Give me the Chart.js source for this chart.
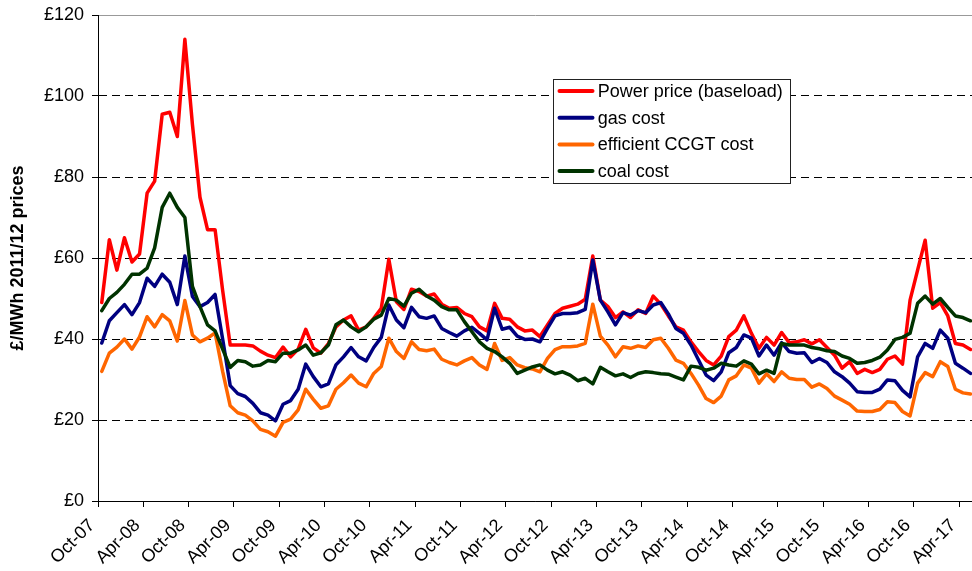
<!DOCTYPE html>
<html>
<head>
<meta charset="utf-8">
<script src="https://cdn.jsdelivr.net/npm/chart.js@4.4.1/dist/chart.umd.min.js"></script>
<style>
html, body { margin: 0; padding: 0; background: #fff; overflow: hidden; }
</style>
</head>
<body>
<canvas id="chart1" width="972" height="571"></canvas>
<script>
// x axis labels, one every 6 months starting Oct-07
var tickLabels = ["Oct-07", "Apr-08", "Oct-08", "Apr-09", "Oct-09", "Apr-10", "Oct-10",
    "Apr-11", "Oct-11", "Apr-12", "Oct-12", "Apr-13", "Oct-13", "Apr-14", "Oct-14",
    "Apr-15", "Oct-15", "Apr-16", "Oct-16", "Apr-17"];

var yTicks = [0, 20, 40, 60, 80, 100, 120];

var seriesNames = ["Power price (baseload)", "gas cost", "efficient CCGT cost", "coal cost"];

// monthly values, Oct-07 onwards (£/MWh)
var powerPrice = [49, 64.5, 57, 65, 59, 61, 76, 79, 95.5, 96, 90, 114,
    93, 75, 67, 67, 52, 38.5, 38.5, 38.5, 38.3, 37, 36, 35.4,
    38, 35.6, 37.5, 42.4, 37.8, 36.5, 38.9, 43, 44.7, 45.7, 42.2, 43,
    45.1, 47.6, 59.7, 49.2, 47.3, 52.3, 51.7, 50.6, 51.1, 48.6, 47.6, 47.8,
    46.3, 45.5, 43, 42, 48.8, 45.1, 44.9, 43, 42, 42.2, 40.6, 43.5,
    46.3, 47.6, 48.1, 48.6, 49.8, 60.5, 49.6, 48, 45.3, 46.7, 45.3, 47.2,
    46.3, 50.6, 48.6, 45.7, 43, 42.2, 39.3, 36.9, 34.7, 33.6, 35.8, 40.6,
    42.2, 45.7, 41.4, 37.7, 40.4, 38.5, 41.6, 39.1, 39.3, 39.8, 38.8, 39.8,
    37.9, 36, 32.8, 34.4, 31.5, 32.5, 31.7, 32.5, 35, 35.8, 33.8, 49.6,
    57, 64.4, 47.6, 49, 45.7, 38.9, 38.5, 37.4];

var gasCost = [39, 44.5, 46.5, 48.5, 46, 49, 55, 53, 56, 54, 48.5, 60.5,
    50.5, 48, 49, 51, 40, 28.5, 26.5, 25.8, 24.1, 21.8, 21.2, 19.8,
    23.9, 24.8, 27.6, 33.8, 30.7, 28.2, 28.9, 33.6, 35.6, 37.9, 35.6, 34.6,
    37.9, 40.4, 48.4, 44.7, 42.8, 47.8, 45.5, 45.1, 45.7, 42.6, 41.6, 40.7,
    42, 42.9, 41.4, 39.8, 47.6, 42.4, 42.9, 40.7, 39.9, 40, 39.3, 42.6,
    45.7, 46.3, 46.3, 46.5, 47.3, 59.5, 49.6, 46.7, 43.5, 46.5, 45.9, 47,
    46.5, 48.4, 49, 46.2, 42.6, 41.4, 38.5, 34.8, 31.1, 29.7, 31.9, 36.6,
    37.9, 41, 40.2, 35.8, 38.5, 36, 39.1, 36.9, 36.5, 36.6, 34.2, 35.2,
    34.2, 31.9, 30.7, 29.1, 27, 26.8, 26.8, 27.6, 29.9, 29.7, 27.3, 25.7,
    35.6, 38.9, 37.7, 42.2, 40.2, 34, 32.8, 31.5];

var ccgtCost = [32, 36.5, 38, 40, 37.5, 40.5, 45.5, 43, 46, 44.5, 39.5, 49.5,
    41, 39.3, 40.2, 41.5, 32, 23.5, 21.8, 21.2, 19.8, 17.7, 17.1, 16,
    19.4, 20.2, 22.5, 27.6, 25.1, 22.9, 23.5, 27.6, 29.2, 31.1, 29.1, 28.2,
    31.5, 33.2, 40.2, 36.9, 35.2, 39.3, 37.4, 37.1, 37.5, 35, 34.2, 33.6,
    34.6, 35.4, 33.6, 32.5, 38.9, 34.7, 35.4, 33.6, 32.9, 32.6, 31.9, 35.2,
    37.4, 38.1, 38.1, 38.3, 38.9, 48.6, 40.7, 38.5, 35.6, 38.1, 37.7, 38.3,
    37.9, 39.8, 40.2, 37.7, 34.8, 34, 31.5, 28.6, 25.3, 24.3, 25.9, 29.9,
    30.9, 33.6, 32.8, 29.1, 31.4, 29.5, 31.9, 30.3, 30, 30, 28.1, 28.9,
    27.8, 25.9, 24.9, 23.9, 22.2, 22.1, 22.1, 22.6, 24.5, 24.3, 22.1, 21,
    29.1, 31.7, 30.7, 34.4, 33.2, 27.6, 26.7, 26.4];

var coalCost = [47, 50, 51.5, 53.5, 56, 56, 57.5, 62.5, 72.5, 76, 72.5, 70,
    53, 48, 43.5, 42, 37.5, 33, 34.7, 34.4, 33.3, 33.6, 34.7, 34.4,
    36.5, 36.5, 37.3, 38.5, 36, 36.6, 38.5, 43.5, 44.7, 43, 41.8, 43,
    44.9, 45.9, 50, 49.6, 48.1, 51.3, 52.3, 50.6, 49.6, 48, 47.2, 47.2,
    44.3, 41.8, 39.3, 37.7, 36.9, 35.6, 34, 31.5, 32.3, 33.1, 33.6, 32.3,
    31.4, 31.9, 31.1, 29.7, 30.3, 28.9, 33, 31.9, 30.9, 31.4, 30.5, 31.5,
    31.9, 31.7, 31.4, 31.3, 30.6, 29.9, 33.3, 33, 32.3, 32.8, 34, 33.6,
    33.3, 34.6, 33.8, 31.4, 32.3, 31.5, 38.9, 38.5, 38.5, 38.5, 37.9, 37.6,
    37.1, 36.9, 35.8, 35.2, 34, 34.2, 34.7, 35.5, 37.3, 39.9, 40.4, 41.4,
    48.8, 50.6, 48.6, 50, 47.8, 45.7, 45.3, 44.5];

// line colours
var colors = ["#FF0000", "#000080", "#FF6600", "#003300"];

// months visible on the axis (the plot is cut off at the right)
var monthsShown = 115.7;

var fontFamily = "'Liberation Sans', Arial, sans-serif";

// monthly values sit in the middle of their month
function toPoints(values) {
    return values.map(function (v, i) {
        return { x: i + 0.5, y: v };
    });
}

function createData(label, values, color, order) {
    return {
        label: label,
        data: toPoints(values),
        borderColor: color,
        backgroundColor: color,
        borderWidth: 3.5,
        pointRadius: 0,
        borderJoinStyle: "round",
        borderCapStyle: "round",
        fill: false,
        tension: 0,
        order: order
    };
}

// legend box inside the plot
var boxLegend = {
    id: "boxLegend",
    afterDraw: function (chart) {
        var ctx = chart.ctx;
        var left = 553.5, top = 79.5, w = 237, h = 104;
        ctx.save();
        ctx.fillStyle = "#fff";
        ctx.fillRect(left, top, w, h);
        ctx.strokeStyle = "#222";
        ctx.lineWidth = 1;
        ctx.strokeRect(left, top, w, h);
        ctx.font = "18px " + fontFamily;
        ctx.textBaseline = "middle";
        chart.data.datasets.forEach(function (ds, k) {
            var y = 91 + k * 26.7;
            ctx.strokeStyle = ds.borderColor;
            ctx.lineWidth = 4;
            ctx.lineCap = "round";
            ctx.beginPath();
            ctx.moveTo(559.5, y);
            ctx.lineTo(592.5, y);
            ctx.stroke();
            ctx.fillStyle = "#000";
            ctx.fillText(ds.label, 597.7, y + 1);
        });
        ctx.restore();
    }
};

var chart = new Chart(document.getElementById("chart1"), {
    type: "line",
    data: {
        datasets: [
            createData(seriesNames[0], powerPrice, colors[0], 4),
            createData(seriesNames[1], gasCost, colors[1], 3),
            createData(seriesNames[2], ccgtCost, colors[2], 2),
            createData(seriesNames[3], coalCost, colors[3], 1)
        ]
    },
    options: {
        responsive: false,
        animation: false,
        layout: { padding: { top: 15, right: 0, bottom: 0, left: 0 } },
        plugins: {
            legend: { display: false },
            tooltip: { enabled: false }
        },
        scales: {
            x: {
                type: "linear",
                min: 0,
                max: monthsShown,
                afterBuildTicks: function (s) {
                    s.ticks = tickLabels.map(function (t, k) { return { value: k * 6 }; });
                },
                afterFit: function (s) {
                    s.height = 70;
                    s.paddingRight = 0;
                    s.paddingLeft = 0;
                },
                ticks: {
                    autoSkip: false,
                    maxRotation: 45,
                    minRotation: 45,
                    padding: 8,
                    labelOffset: -6,
                    color: "#000",
                    font: { family: fontFamily, size: 18 },
                    callback: function (v) { return tickLabels[Math.round(v / 6)]; }
                },
                grid: {
                    drawOnChartArea: false,
                    tickLength: 6,
                    tickColor: "#000",
                    color: "#000"
                },
                border: { color: "#000", width: 1 }
            },
            y: {
                min: 0,
                max: 120,
                afterBuildTicks: function (s) {
                    s.ticks = yTicks.map(function (v) { return { value: v }; });
                },
                afterFit: function (s) {
                    s.width = 98;
                    s.paddingTop = 0;
                },
                ticks: {
                    padding: 8,
                    color: "#000",
                    font: { family: fontFamily, size: 18 },
                    callback: function (v) { return "£" + v; }
                },
                grid: {
                    color: function (c) {
                        return c.tick && c.tick.value === 120 ? "#999" : "#000";
                    },
                    lineWidth: 1,
                    tickLength: 6,
                    tickColor: "#000"
                },
                border: {
                    color: "#000",
                    width: 1,
                    dash: function (c) {
                        return (c.tick && c.tick.value > 0 && c.tick.value < 120) ? [8, 5] : [];
                    }
                },
                title: {
                    display: true,
                    text: "£/MWh 2011/12 prices",
                    color: "#000",
                    font: { family: fontFamily, size: 18, weight: "bold" },
                    padding: { top: 7, bottom: 0 }
                }
            }
        }
    },
    plugins: [boxLegend]
});
</script>
</body>
</html>
